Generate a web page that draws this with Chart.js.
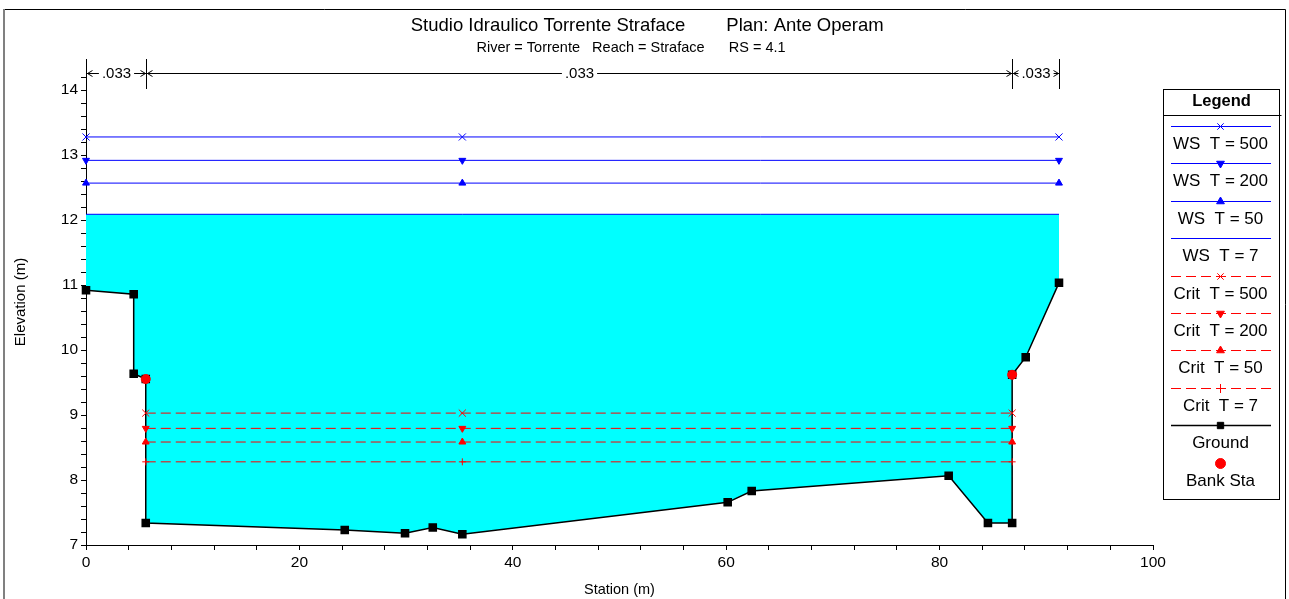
<!DOCTYPE html>
<html>
<head>
<meta charset="utf-8">
<title>Studio Idraulico Torrente Straface - RS 4.1</title>
<script src="https://cdn.jsdelivr.net/npm/chart.js@4.4.0/dist/chart.umd.min.js"></script>
<style>
  html, body { margin: 0; padding: 0; background: #ffffff; }
  #wrap { position: relative; width: 1289px; height: 599px; }
</style>
</head>
<body>
<div id="wrap"><canvas id="xsChart"></canvas></div>
<script>
// Cross section RS 4.1 - ground points (station, elevation)
const groundStation = [0, 4.47, 4.47, 5.6, 5.6, 24.25, 29.9, 32.5, 35.27, 60.14, 62.39, 80.85, 84.53, 86.8, 86.8, 88.07, 91.19];
const groundElevation = [10.92, 10.86, 9.635, 9.554, 7.338, 7.23, 7.18, 7.27, 7.165, 7.657, 7.83, 8.066, 7.338, 7.338, 9.62, 9.89, 11.035];

const bankStation = [5.6, 86.8];
const bankElevation = [9.554, 9.62];

// water surface profiles
const wsLabels = ['WS  T = 500', 'WS  T = 200', 'WS  T = 50', 'WS  T = 7'];
const wsElevation = [13.28, 12.92, 12.57, 12.09];
const wsStations = [0, 35.27, 91.19];

// critical depth profiles
const critLabels = ['Crit  T = 500', 'Crit  T = 200', 'Crit  T = 50', 'Crit  T = 7'];
const critElevation = [9.03, 8.795, 8.585, 8.28];
const critStations = [5.6, 35.27, 86.8];

// marker style per return period (500, 200, 50, 7)
const periodMarkers = ['crossRot', 'triangle', 'triangle', 'cross'];
const periodRotation = [0, 180, 0, 0];

// Manning n values between breakpoints
const nStations = [0, 5.6, 86.8, 91.19];
const nValues = ['.033', '.033', '.033'];

const xTicks = [0, 20, 40, 60, 80, 100];

const FONT = '"Liberation Sans", Arial, sans-serif';
const helpers = Chart.helpers;

function profile(stations, elev) {
    return stations.map(s => ({ x: s, y: elev }));
}

const datasets = [];

wsElevation.forEach((e, i) => {
    const last = i === wsElevation.length - 1;
    datasets.push({
        label: wsLabels[i],
        data: profile(wsStations, e),
        showLine: true,
        borderColor: '#0000ff',
        backgroundColor: '#0000ff',
        borderWidth: 1,
        pointStyle: last ? false : periodMarkers[i],
        pointRotation: periodRotation[i],
        pointRadius: last ? 0 : (i === 0 ? 5 : 4),
        pointBorderWidth: 1,
        clip: false,
        order: 1
    });
});

critElevation.forEach((e, i) => {
    datasets.push({
        label: critLabels[i],
        data: profile(critStations, e),
        showLine: true,
        borderColor: '#ff0000',
        backgroundColor: '#ff0000',
        borderWidth: 1,
        borderDash: [10, 5],
        pointStyle: periodMarkers[i],
        pointRotation: periodRotation[i],
        pointRadius: i === 0 ? 5 : (i === 3 ? 3.5 : 4),
        pointBorderWidth: 1,
        clip: false,
        order: 1
    });
});

// ground, filled up to the lowest water surface (T = 7)
datasets.push({
    label: 'Ground',
    data: groundStation.map((s, i) => ({ x: s, y: groundElevation[i] })),
    showLine: true,
    borderColor: '#000000',
    backgroundColor: '#00ffff',
    pointBackgroundColor: '#000000',
    pointBorderColor: '#000000',
    borderWidth: 1.5,
    pointStyle: 'rect',
    pointRadius: 5,
    fill: { value: wsElevation[wsElevation.length - 1] },
    clip: false,
    order: 10
});

datasets.push({
    label: 'Bank Sta',
    data: bankStation.map((s, i) => ({ x: s, y: bankElevation[i] })),
    showLine: false,
    backgroundColor: '#ff0000',
    borderColor: '#ff0000',
    pointStyle: 'circle',
    pointRadius: 4.5,
    clip: false,
    order: 0
});

// frame, titles, n-value dimension lines and legend box
const decorations = {
    id: 'decorations',
    afterDraw(chart) {
        const ctx = chart.ctx;
        const area = chart.chartArea;
        const xs = chart.scales.x;
        ctx.save();

        // outer frame
        ctx.strokeStyle = '#000000';
        ctx.lineWidth = 1;
        ctx.beginPath();
        ctx.moveTo(1285.5, 620);
        ctx.lineTo(1285.5, 9.5);
        ctx.lineTo(4.5, 9.5);
        ctx.stroke();
        ctx.strokeStyle = '#808080';
        ctx.lineWidth = 2;
        ctx.beginPath();
        ctx.moveTo(4, 9);
        ctx.lineTo(4, 620);
        ctx.stroke();

        // titles
        ctx.strokeStyle = '#000000';
        ctx.lineWidth = 1;
        ctx.fillStyle = '#000000';
        ctx.textAlign = 'center';
        ctx.textBaseline = 'middle';
        ctx.font = '18.5px ' + FONT;
        ctx.fillText('Studio Idraulico Torrente Straface', 548, 26);
        ctx.fillText('Plan: Ante Operam', 805, 26);
        ctx.font = '14.5px ' + FONT;
        ctx.fillText('River = Torrente   Reach = Straface      RS = 4.1', 631, 48);

        // n values
        const top = area.top, mid = area.top + 14, bot = area.top + 30;
        ctx.font = '15px ' + FONT;
        nStations.forEach(s => {
            const px = Math.round(xs.getPixelForValue(s)) + 0.5;
            ctx.beginPath();
            ctx.moveTo(px, top);
            ctx.lineTo(px, bot);
            ctx.stroke();
        });
        for (let i = 0; i < nValues.length; i++) {
            const x1 = Math.round(xs.getPixelForValue(nStations[i])) + 0.5;
            const x2 = Math.round(xs.getPixelForValue(nStations[i + 1])) + 0.5;
            const cx = (x1 + x2) / 2;
            const w = ctx.measureText(nValues[i]).width;
            ctx.fillText(nValues[i], cx, mid + 1);
            const y = Math.round(mid) + 0.5;
            ctx.beginPath();
            ctx.moveTo(x1, y);
            ctx.lineTo(Math.max(x1 + 2, cx - w / 2 - 3), y);
            ctx.moveTo(Math.min(x2 - 2, cx + w / 2 + 3), y);
            ctx.lineTo(x2, y);
            // arrow heads
            ctx.moveTo(x1 + 6, y - 3);
            ctx.lineTo(x1 + 1, y);
            ctx.lineTo(x1 + 6, y + 3);
            ctx.moveTo(x2 - 6, y - 3);
            ctx.lineTo(x2 - 1, y);
            ctx.lineTo(x2 - 6, y + 3);
            ctx.stroke();
        }

        // legend box
        const lx = 1163.5, ly = 89.5, lw = 116, lh = 410;
        ctx.strokeRect(lx, ly, lw, lh);
        ctx.beginPath();
        ctx.moveTo(lx, 115.5);
        ctx.lineTo(lx + lw + 2, 115.5);
        ctx.stroke();
        ctx.font = 'bold 16.5px ' + FONT;
        ctx.fillText('Legend', lx + lw / 2, 101);

        const cx = 1220.5;
        ctx.font = '17px ' + FONT;
        chart.data.datasets.forEach((ds, i) => {
            const yLine = Math.round(126 + i * 37.4) + 0.5;
            ctx.save();
            if (ds.showLine) {
                ctx.strokeStyle = ds.borderColor;
                ctx.lineWidth = ds.borderWidth;
                ctx.setLineDash(ds.borderDash || []);
                ctx.beginPath();
                ctx.moveTo(1171, yLine);
                ctx.lineTo(1271, yLine);
                ctx.stroke();
                ctx.setLineDash([]);
            }
            if (ds.pointStyle && ds.pointRadius > 0) {
                ctx.fillStyle = ds.pointBackgroundColor || ds.backgroundColor;
                ctx.strokeStyle = ds.pointBorderColor || ds.borderColor;
                ctx.lineWidth = 1;
                helpers.drawPoint(ctx, {
                    pointStyle: ds.pointStyle,
                    rotation: ds.pointRotation || 0,
                    radius: ds.label === 'Bank Sta' ? 5 : 4.5,
                    borderWidth: 1
                }, cx, yLine);
            }
            ctx.restore();
            ctx.fillStyle = '#000000';
            ctx.fillText(ds.label, cx, yLine + 17.5);
        });

        ctx.restore();
    }
};

new Chart(document.getElementById('xsChart'), {
    type: 'scatter',
    data: { datasets: datasets },
    options: {
        responsive: true,
        maintainAspectRatio: false,
        animation: false,
        events: [],
        layout: { padding: { left: 0, right: 136, top: 59, bottom: 0 } },
        plugins: {
            legend: { display: false },
            tooltip: { enabled: false },
            title: { display: false }
        },
        scales: {
            x: {
                type: 'linear',
                min: 0,
                max: 100,
                grid: { drawOnChartArea: false, drawTicks: true, tickLength: 5, color: '#000000' },
                border: { display: true, color: '#000000', width: 1 },
                ticks: {
                    stepSize: 4,
                    autoSkip: false,
                    maxRotation: 0,
                    color: '#000000',
                    font: { size: 15.5, family: FONT },
                    padding: 3,
                    callback: v => xTicks.includes(v) ? String(v) : ''
                },
                title: {
                    display: true,
                    text: 'Station (m)',
                    color: '#000000',
                    font: { size: 14.5, family: FONT },
                    padding: { top: 0, bottom: 0 }
                },
                afterFit(scale) {
                    scale.height = 54;
                    scale.paddingLeft = 0;
                    scale.paddingRight = 0;
                }
            },
            y: {
                type: 'linear',
                min: 7,
                max: 14.48,
                grid: { drawOnChartArea: false, drawTicks: true, tickLength: 5, color: '#000000' },
                border: { display: true, color: '#000000', width: 1 },
                ticks: {
                    stepSize: 0.2,
                    autoSkip: false,
                    color: '#000000',
                    font: { size: 15.5, family: FONT },
                    padding: 3,
                    callback: v => Math.abs(v - Math.round(v)) < 1e-6 ? String(Math.round(v)) : ''
                },
                afterBuildTicks(scale) {
                    scale.ticks = scale.ticks.filter(t => Math.abs(t.value * 5 - Math.round(t.value * 5)) < 1e-6);
                },
                title: {
                    display: true,
                    text: 'Elevation (m)',
                    color: '#000000',
                    font: { size: 15, family: FONT },
                    padding: { top: 12, bottom: 0 }
                },
                afterFit(scale) {
                    scale.width = 86;
                    scale.paddingTop = 0;
                    scale.paddingBottom = 0;
                }
            }
        }
    },
    plugins: [decorations]
});
</script>
</body>
</html>
